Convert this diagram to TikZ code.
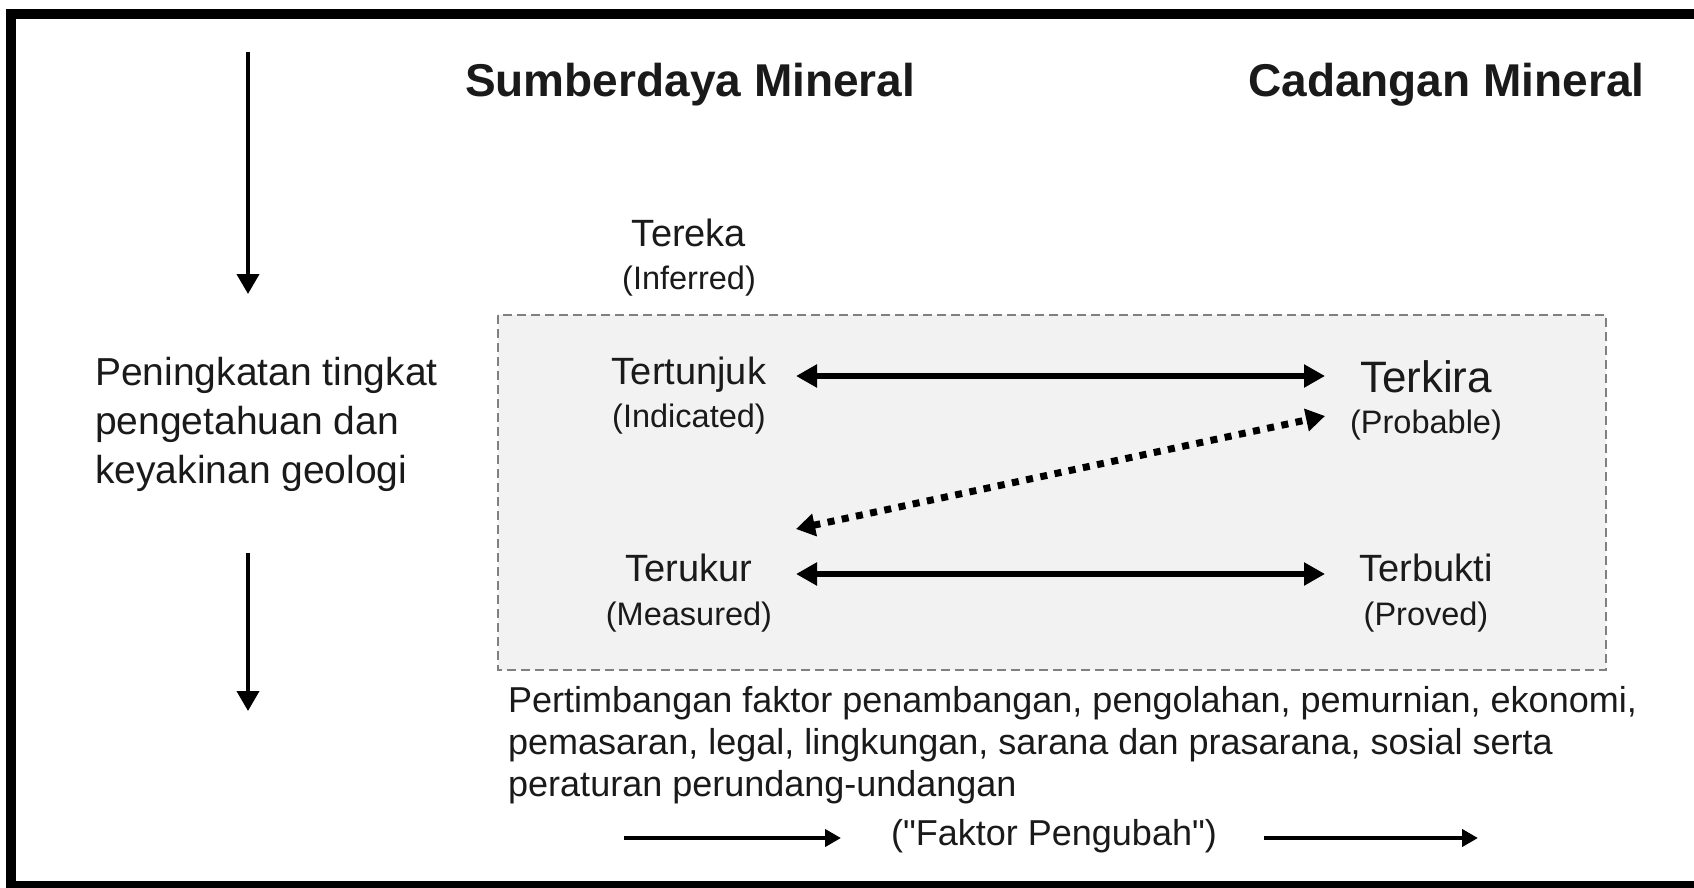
\documentclass[tikz,border=0pt]{standalone}
\usepackage{fontspec}
\setmainfont{Liberation Sans}[Ligatures=TeXOff]
\usetikzlibrary{arrows.meta}
\definecolor{txt}{HTML}{1A1A1A}
\definecolor{boxfill}{HTML}{F2F2F2}
\definecolor{boxdash}{HTML}{808080}
\begin{document}
\begin{tikzpicture}[x=1pt,y=-1pt,
  lbl/.style={inner sep=0pt, anchor=base, text=txt, font=\fontsize{38}{44}\selectfont},
  sublbl/.style={inner sep=0pt, anchor=base, text=txt, font=\fontsize{32.5}{38}\selectfont},
  bigl/.style={inner sep=0pt, anchor=base, text=txt, font=\fontsize{44}{50}\selectfont},
  ttl/.style={inner sep=0pt, anchor=base west, text=txt, font=\fontsize{46}{52}\selectfont\bfseries},
  para/.style={inner sep=0pt, anchor=base west, text=txt, font=\fontsize{36}{42}\selectfont},
  side/.style={inner sep=0pt, anchor=base west, text=txt, font=\fontsize{39}{49}\selectfont},
  dbl/.style={line width=6.5pt, {Triangle[length=21pt,width=22pt]}-{Triangle[length=21pt,width=22pt]}},
  dotdbl/.style={line width=7pt, dash pattern=on 7pt off 7.5pt, {Triangle[length=19pt,width=22pt]}-{Triangle[length=19pt,width=22pt]}},
  varr/.style={line width=4pt, -{Triangle[length=20pt,width=22pt]}},
  harr/.style={line width=4.5pt, -{Triangle[length=16pt,width=17pt]}},
  frame/.style={fill=black},
  dbox/.style={fill=boxfill, draw=boxdash, line width=1.6pt, dash pattern=on 9pt off 5pt}
]
\useasboundingbox (0,0) rectangle (1694,888);
\fill[white] (0,0) rectangle (1694,888);
% outer frame (left, top, bottom)
\fill[frame] (6,9) rectangle (1694,19);
\fill[frame] (6,9) rectangle (16,888);
\fill[frame] (6,881) rectangle (1694,888);
% dashed box
\draw[dbox] (498,315) rectangle (1606,670);
% titles
\node[ttl] (sumber) at (465,97) {Sumberdaya Mineral};
\node[ttl] (cadangan) at (1248,97) {Cadangan Mineral};
% side text
\node[side] (side1) at (95,385) {Peningkatan tingkat};
\node[side] (side2) at (95,434) {pengetahuan dan};
\node[side] (side3) at (95,483) {keyakinan geologi};
% vertical arrows
\coordinate (v1s) at (248,52);
\coordinate (v1e) at (248,294);
\coordinate (v2s) at (248,553);
\coordinate (v2e) at (248,711);
\draw[varr] (v1s) -- (v1e);
\draw[varr] (v2s) -- (v2e);
% resource / reserve labels
\node[lbl] (tereka) at (689,246) {Tereka};
\node[sublbl] (inferred) at (689,289) {(Inferred)};
\node[lbl] (tertunjuk) at (689,384) {Tertunjuk};
\node[sublbl] (indicated) at (689,427) {(Indicated)};
\node[lbl] (terukur) at (689,581) {Terukur};
\node[sublbl] (measured) at (689,625) {(Measured)};
\node[bigl] (terkira) at (1426,392) {Terkira};
\node[sublbl] (probable) at (1426,433) {(Probable)};
\node[lbl] (terbukti) at (1426,581) {Terbukti};
\node[sublbl] (proved) at (1426,625) {(Proved)};
% arrows between categories
\coordinate (ta) at (796,376);
\coordinate (tb) at (1325,376);
\coordinate (ba) at (796,574);
\coordinate (bb) at (1325,574);
\coordinate (da) at (796,529);
\coordinate (db) at (1325,416);
\draw[dbl] (ta) -- (tb);
\draw[dbl] (ba) -- (bb);
\draw[dotdbl] (da) -- (db);
% modifying factors
\node[para] (p1) at (508,712) {Pertimbangan faktor penambangan, pengolahan, pemurnian, ekonomi,};
\node[para] (p2) at (508,754) {pemasaran, legal, lingkungan, sarana dan prasarana, sosial serta};
\node[para] (p3) at (508,796) {peraturan perundang-undangan};
\node[para, anchor=base] (faktor) at (1054,845) {("Faktor Pengubah")};
\coordinate (h1s) at (624,838);
\coordinate (h1e) at (841,838);
\coordinate (h2s) at (1264,838);
\coordinate (h2e) at (1478,838);
\draw[harr] (h1s) -- (h1e);
\draw[harr] (h2s) -- (h2e);
\end{tikzpicture}
\end{document}
